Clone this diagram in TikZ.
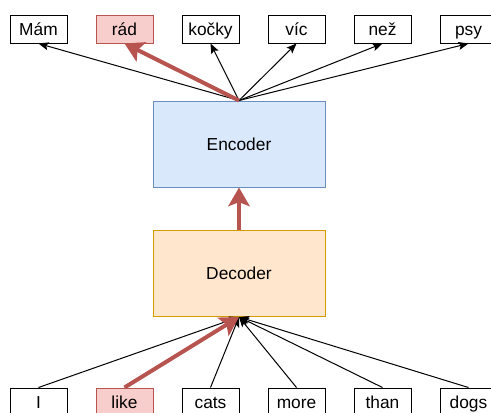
\documentclass[tikz,border=0pt]{standalone}
\usepackage{fontspec}
\setmainfont{Liberation Sans}
\usetikzlibrary{positioning,arrows.meta}

\definecolor{encfill}{HTML}{DAE8FC}
\definecolor{encline}{HTML}{6C8EBF}
\definecolor{decfill}{HTML}{FFE6CC}
\definecolor{decline}{HTML}{D79B00}
\definecolor{hlfill}{HTML}{F8CECC}
\definecolor{hlline}{HTML}{B85450}

\begin{document}
\begin{tikzpicture}[
  x=0.75pt, y=-0.75pt,
  font=\fontsize{13}{15}\selectfont,
  wordbox/.style={
    draw=black,
    fill=white,
    line width=0.75pt,
    minimum width=42.75pt,
    minimum height=21pt,
    text height=10pt,
    text depth=0pt,
    inner sep=0pt
  },
  hlbox/.style={
    wordbox,
    draw=hlline,
    fill=hlfill
  },
  block/.style={
    draw=#1line,
    fill=#1fill,
    line width=0.75pt,
    minimum width=129pt,
    minimum height=64.5pt,
    inner sep=0pt
  },
  flow/.style={-{Stealth[length=7.5pt,width=6pt,inset=1.5pt]},line width=0.75pt,draw=black},
  hlflow/.style={-{Stealth[length=14pt,width=16pt,inset=3pt]},line width=3pt,draw=hlline}
]
\useasboundingbox (0,0) rectangle (491,412);

% middle blocks
\node[block=enc] (enc) at (239,144) {Encoder};
\node[block=dec] (dec) at (239,273.5) {Decoder};

% output words
\node[wordbox] (mam)   at (38.5,29)  {Mám};
\node[hlbox]   (rad)   at (124.5,29) {rád};
\node[wordbox] (kocky) at (210.5,29) {kočky};
\node[wordbox] (vic)   at (296.5,29) {víc};
\node[wordbox] (nez)   at (382.5,29) {než};
\node[wordbox] (psy)   at (468.5,29) {psy};

% input words
\node[wordbox] (i)    at (38.5,402)  {I};
\node[hlbox]   (like) at (124.5,402) {like};
\node[wordbox] (cats) at (210.5,402) {cats};
\node[wordbox] (more) at (296.5,402) {more};
\node[wordbox] (than) at (382.5,402) {than};
\node[wordbox] (dogs) at (468.5,402) {dogs};

\draw[flow] (enc.north) -- (mam.south);
\draw[flow] (enc.north) -- (kocky.south);
\draw[flow] (enc.north) -- (vic.south);
\draw[flow] (enc.north) -- (nez.south);
\draw[flow] (enc.north) -- (psy.south);
\draw[hlflow] (enc.north) -- (rad.south);

\draw[flow] (i.north) -- (dec.south);
\draw[flow] (cats.north) -- (dec.south);
\draw[flow] (more.north) -- (dec.south);
\draw[flow] (than.north) -- (dec.south);
\draw[flow] (dogs.north) -- (dec.south);
\draw[hlflow] (like.north) -- (dec.south);

\draw[hlflow] (dec.north) -- (enc.south);
\end{tikzpicture}
\end{document}
